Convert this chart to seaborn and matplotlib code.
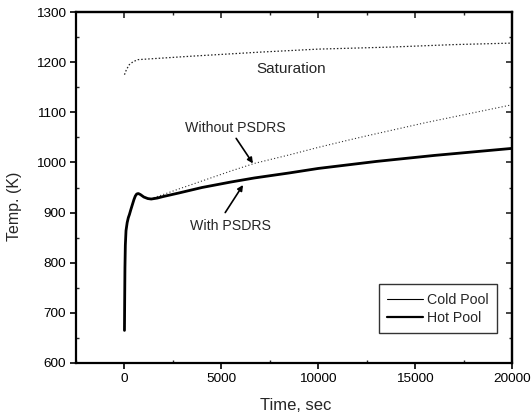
import matplotlib
matplotlib.use("Agg")
import matplotlib.pyplot as plt
from matplotlib.lines import Line2D
import seaborn as sns

# Hot pool temperature with PSDRS (K) vs time (s)
hot_t = [0, 10, 25, 45, 80, 140, 200, 255, 330, 410, 490, 560, 630, 714, 820,
         1000, 1200, 1380, 1700, 2000, 2800, 4000, 5500, 6700, 8500, 10000,
         11500, 13000, 14500, 16000, 18000, 20000]
hot_T = [665, 720, 790, 835, 864, 880, 890, 896, 906, 916, 926, 933, 937, 938,
         936, 931, 928, 927, 929, 932, 939, 950, 961, 969, 979, 988,
         995, 1002, 1008, 1014, 1021, 1028]

# Cold pool temperature without PSDRS (K) vs time (s)
cold_t = [0, 10, 25, 45, 80, 140, 200, 255, 330, 410, 490, 560, 630, 714, 820,
          1000, 1200, 1380, 2000, 2800, 4000, 5500, 6700, 8500, 10000, 11500,
          12500, 14000, 15500, 17000, 18500, 20000]
cold_T = [665, 720, 790, 835, 864, 880, 890, 896, 906, 916, 926, 933, 937, 938,
          936, 931, 928, 928, 936, 947, 963, 983, 998, 1015, 1030, 1044,
          1053, 1066, 1079, 1091, 1103, 1115]

# Saturation temperature (K) vs time (s)
sat_t = [0, 100, 250, 450, 700, 1500, 3500, 7000, 10000, 13700, 17000, 20000]
sat_T = [1175, 1185, 1195, 1201, 1205, 1207, 1212, 1220, 1226, 1230, 1235, 1238]

x_ticks = [0, 5000, 10000, 15000, 20000]
y_ticks = [600, 700, 800, 900, 1000, 1100, 1200, 1300]
x_minor = [-2500, 2500, 7500, 12500, 17500]
y_minor = [650, 750, 850, 950, 1050, 1150, 1250]

sns.set_theme(style="ticks")
plt.rcParams["font.family"] = ["Liberation Sans", "DejaVu Sans"]

fig = plt.figure(figsize=(5.32, 4.17), dpi=100)
ax = fig.add_axes([0.1429, 0.1295, 0.8195, 0.8417])

sns.lineplot(x=sat_t, y=sat_T, ax=ax, color="#222222", lw=0.9,
             linestyle=(0, (1.2, 1.6)), estimator=None, sort=False)
sns.lineplot(x=cold_t, y=cold_T, ax=ax, color="#333333", lw=0.8,
             linestyle=(0, (1.0, 2.0)), estimator=None, sort=False)
sns.lineplot(x=hot_t, y=hot_T, ax=ax, color="black", lw=2.0,
             estimator=None, sort=False)

ax.set_xlim(-2500, 20000)
ax.set_ylim(600, 1300)
ax.set_xticks(x_ticks)
ax.set_yticks(y_ticks)
ax.set_xticks(x_minor, minor=True)
ax.set_yticks(y_minor, minor=True)
ax.tick_params(axis="both", which="major", direction="out", length=4,
               width=1.2, labelsize=9.7, colors="black", pad=3)
ax.tick_params(axis="both", which="minor", direction="in", length=2.5,
               width=1.0)

for side in ax.spines.values():
    side.set_linewidth(1.6)
    side.set_color("black")

# inward ticks on the top and right frame edges
top = ax.secondary_xaxis("top")
top.set_xticks(x_ticks)
top.set_xticks(x_minor[1:], minor=True)
top.tick_params(which="major", direction="in", length=4, width=1.2,
                labeltop=False)
top.tick_params(which="minor", direction="in", length=2.5, width=1.0)
top.spines["top"].set_linewidth(1.6)
right = ax.secondary_yaxis("right")
right.set_yticks(y_ticks)
right.set_yticks(y_minor, minor=True)
right.tick_params(which="major", direction="in", length=4, width=1.2,
                  labelright=False)
right.tick_params(which="minor", direction="in", length=2.5, width=1.0)
right.spines["right"].set_linewidth(1.6)

ax.set_xlabel("Time, sec", fontsize=12, va="center")
ax.set_ylabel("Temp. (K)", fontsize=11.5, va="center")
ax.xaxis.set_label_coords(0.503, -0.12)
ax.yaxis.set_label_coords(-0.14, 0.447)

ax.text(8620, 1186, "Saturation", fontsize=11, ha="center", va="center")
ax.text(5714, 1069, "Without PSDRS", fontsize=10.2, ha="center", va="center")
ax.text(5460, 874, "With PSDRS", fontsize=10.2, ha="center", va="center")
ax.annotate("", xy=(6630, 998), xytext=(5765, 1048),
            arrowprops=dict(arrowstyle="-|>", color="black", lw=1.2,
                            mutation_scale=8, shrinkA=0, shrinkB=0))
ax.annotate("", xy=(6120, 955), xytext=(5200, 900),
            arrowprops=dict(arrowstyle="-|>", color="black", lw=1.2,
                            mutation_scale=8, shrinkA=0, shrinkB=0))

handles = [Line2D([], [], color="black", lw=0.8),
           Line2D([], [], color="black", lw=1.6)]
leg = ax.legend(handles, ["Cold Pool", "Hot Pool"], loc="lower right",
                bbox_to_anchor=(0.966, 0.085), borderaxespad=0,
                fontsize=10.2, frameon=True, fancybox=False,
                handlelength=2.5, handletextpad=0.3, borderpad=0.6,
                labelspacing=0.27)
leg.get_frame().set_edgecolor("black")
leg.get_frame().set_linewidth(1.0)

fig.savefig("out.png", dpi=100)
